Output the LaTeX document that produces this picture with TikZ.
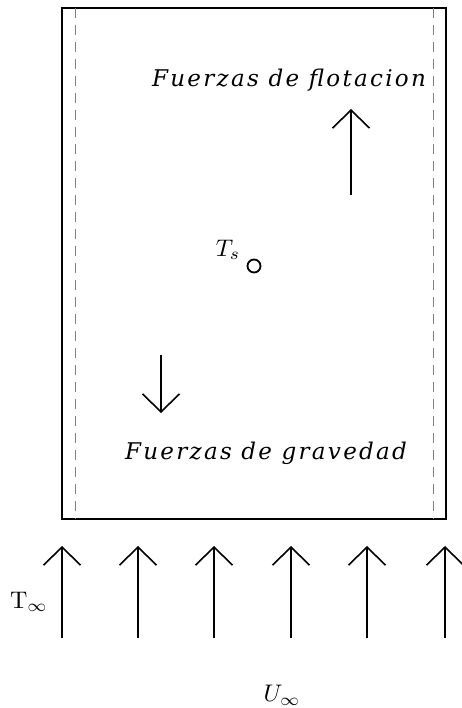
\documentclass[tikz,border=0pt]{standalone}
\usepackage{amsmath}
\usepackage{graphicx}
\usepackage{fontspec}
\newfontfamily\forcefont{DejaVu Serif}[LetterSpace=10]
\usepackage{tikz}
\usetikzlibrary{arrows.meta}
\newcommand{\biglbl}[1]{\scalebox{2.4}{$#1$}}

\begin{document}
\begin{tikzpicture}[x=1pt,y=-1pt,
  flow/.style={-{Straight Barb[length=18pt,width=37pt,line width=1.6pt]}, line width=1.6pt},
  lbl/.style={inner sep=0pt},
  force/.style={inner sep=0pt, font=\forcefont\itshape\fontsize{23}{27}\selectfont}]
\useasboundingbox (0,0) rectangle (462,708);
% channel
\draw[line width=2.2pt] (62,8) rectangle (446,519);
\draw[gray, line width=1pt, dash pattern=on 10pt off 7pt] (75,8) -- (75,519);
\draw[gray, line width=1pt, dash pattern=on 10pt off 7pt] (433,8) -- (433,519);
% forces
\node[force] (flot) at (289,80) {Fuerzas de flotacion};
\coordinate (flotA) at (351,195);
\coordinate (flotB) at (351,109);
\draw[flow] (flotA) -- (flotB);
\coordinate (gravA) at (161,355);
\coordinate (gravB) at (161,413);
\draw[flow] (gravA) -- (gravB);
\node[force] (grav) at (266,453) {Fuerzas de gravedad};
% surface
\node[lbl] (ts) at (228,250) {\biglbl{T_s}};
\node[draw, circle, line width=1.8pt, minimum size=13pt, inner sep=0pt] (sfc) at (254,266) {};
% free stream
\foreach \x [count=\i] in {62,138,214,291,367,445} {
  \coordinate (in\i) at (\x,638);
  \coordinate (out\i) at (\x,546);
  \draw[flow] (in\i) -- (out\i);
}
\node[lbl] (tinf) at (29,602) {\biglbl{\mathrm{T}_\infty}};
\node[lbl] (uinf) at (282,695) {\biglbl{U_\infty}};
\end{tikzpicture}
\end{document}
